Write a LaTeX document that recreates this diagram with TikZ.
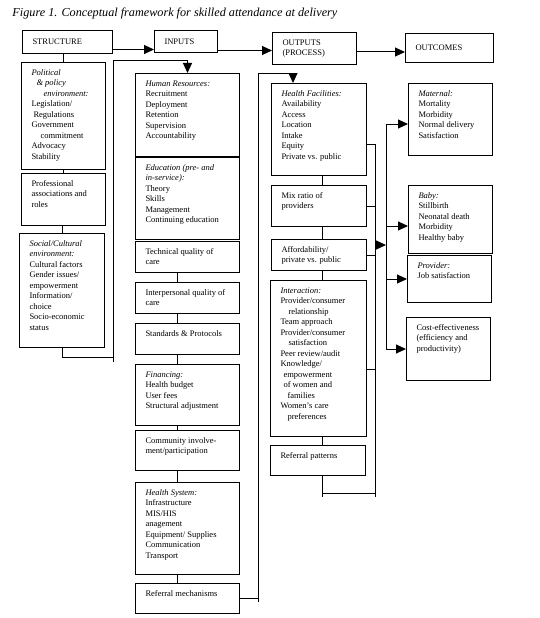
\documentclass[tikz,border=0pt]{standalone}
\usepackage{fontspec}
\setmainfont{Liberation Serif}
\usetikzlibrary{arrows.meta}
\newcommand{\boxtxt}[3]{\parbox[t][#2][t]{#1}{\raggedright #3}}

\begin{document}
\begin{tikzpicture}[x=1pt, y=-1pt, line width=1pt,
    hdr/.style={draw, anchor=north west, inner xsep=10pt, inner ysep=0pt, align=left, font=\fontsize{8.5}{10}\selectfont},
    blk/.style={draw, anchor=north west, inner xsep=10pt, inner ysep=7pt, font=\fontsize{8.5}{10.5}\selectfont},
    arr/.style={-{Triangle[length=10pt, width=9pt]}}]
    \useasboundingbox (0,0) rectangle (539,618);
    \node[anchor=base west, inner xsep=0pt, font=\fontsize{12.2}{14}\selectfont\itshape] (title) at (12,17) {Figure 1. Conceptual framework for skilled attendance at delivery};

    % headers
    \node[hdr, text width=70pt, minimum height=23pt] (struct) at (22,30) {STRUCTURE};
    \node[hdr, text width=43pt, minimum height=22pt] (inputs) at (154,30) {INPUTS};
    \node[hdr, text width=64pt, minimum height=32pt] (outp) at (272,32) {OUTPUTS\\(PROCESS)};
    \node[hdr, text width=68pt, minimum height=29pt] (outc) at (405,33) {OUTCOMES};

    \coordinate (a1) at ([yshift=-8pt]inputs.west);
    \coordinate (a2) at ([yshift=-2pt]outp.west);
    \coordinate (a3) at ([yshift=-4pt]outc.west);
    \draw[arr] (struct.east |- a1) -- (a1);
    \draw[arr] (inputs.east |- a2) -- (a2);
    \draw[arr] (outp.east |- a3) -- (a3);

    % structure
    \node[blk] (pol) at (21,62) {\boxtxt{64pt}{93pt}{\textit{Political}\\\hspace*{5pt}\textit{\& policy}\\\hspace*{12pt}\textit{environment:}\\Legislation/\\\hspace*{2pt}Regulations\\Government\\\hspace*{9pt}commitment\\Advocacy\\Stability}};
    \node[blk] (prof) at (21,173) {\boxtxt{64pt}{38pt}{Professional\\associations and\\roles}};
    \node[blk] (soc) at (19,233) {\boxtxt{65pt}{100pt}{\textit{Social/Cultural}\\\textit{environment:}\\Cultural factors\\Gender issues/\\empowerment\\Information/\\choice\\Socio-economic\\status}};

    \draw (pol.north |- struct.south) -- (pol.north);
    \draw (pol.south) -- (prof.north);
    \draw (soc.north |- prof.south) -- (soc.north);

    % inputs
    \node[blk] (hr) at (135,73) {\boxtxt{84pt}{69pt}{\textit{Human Resources:}\\Recruitment\\Deployment\\Retention\\Supervision\\Accountability}};
    \node[blk] (edu) at (135,157) {\boxtxt{84pt}{68pt}{\textit{Education (pre- and}\\\textit{in-service):}\\Theory\\Skills\\Management\\Continuing education}};
    \node[blk] (tech) at (135,241) {\boxtxt{84pt}{17pt}{Technical quality of\\care}};
    \node[blk] (inter) at (135,282) {\boxtxt{84pt}{17pt}{Interpersonal quality of\\care}};
    \node[blk] (std) at (135,323) {\boxtxt{84pt}{17pt}{Standards \& Protocols}};
    \node[blk] (fin) at (135,364) {\boxtxt{84pt}{47pt}{\textit{Financing:}\\Health budget\\User fees\\Structural adjustment}};
    \node[blk] (comm) at (135,430) {\boxtxt{84pt}{26pt}{Community involve-\\ment/participation}};
    \node[blk] (hsys) at (135,482) {\boxtxt{84pt}{78pt}{\textit{Health System:}\\Infrastructure\\MIS/HIS\\anagement\\Equipment/ Supplies\\Communication\\Transport}};
    \node[blk] (refm) at (135,583) {\boxtxt{84pt}{16pt}{Referral mechanisms}};

    \coordinate (ic) at (177,0);
    \foreach \x/\y in {tech/inter, inter/std, std/fin, fin/comm, comm/hsys, hsys/refm}
        \draw (\x.south -| ic) -- (\y.north -| ic);

    % structure -> inputs
    \coordinate (sbot) at (113,362);
    \coordinate (stop) at (113,61);
    \draw (soc.south) |- ([yshift=5pt]sbot);
    \draw[arr] (sbot) -- (stop) -| (hr.north);

    % outputs
    \node[blk] (hf) at (271,83) {\boxtxt{75pt}{78pt}{\textit{Health Facilities:}\\Availability\\Access\\Location\\Intake\\Equity\\Private vs. public}};
    \node[blk] (mix) at (271,185) {\boxtxt{75pt}{27pt}{Mix ratio of\\providers}};
    \node[blk] (aff) at (271,239) {\boxtxt{75pt}{17pt}{Affordability/\\private vs. public}};
    \node[blk] (intr) at (270,280) {\boxtxt{76pt}{142pt}{\textit{Interaction:}\\Provider/consumer\\\hspace*{8pt}relationship\\Team approach\\Provider/consumer\\\hspace*{8pt}satisfaction\\Peer review/audit\\Knowledge/\\\hspace*{3pt}empowerment\\\hspace*{3pt}of women and\\\hspace*{7pt}families\\Women's care\\\hspace*{7pt}preferences}};
    \node[blk] (refp) at (270,445) {\boxtxt{75pt}{16pt}{Referral patterns}};

    \coordinate (oc) at (322,0);
    \foreach \x/\y in {hf/mix, mix/aff, aff/intr, intr/refp}
        \draw (\x.south -| oc) -- (\y.north -| oc);

    % inputs -> outputs
    \coordinate (ibot) at (258,602);
    \coordinate (itop) at (258,73);
    \coordinate (ia) at (293,0);
    \draw (refm.east) -- (refm.east -| ibot);
    \draw[arr] (ibot) -- (itop) -| (hf.north -| ia);

    % outputs collector
    \coordinate (rtop) at (375,144);
    \coordinate (rbot) at (375,497);
    \coordinate (istub) at ([yshift=-11pt]intr.east);
    \coordinate (pb) at (322,497);
    \coordinate (pj) at (322,493);
    \draw (hf.east |- rtop) -- (rtop) -- (rbot);
    \draw (mix.east) -- (mix.east -| rtop);
    \draw (aff.east) -- (aff.east -| rtop);
    \draw (istub) -- (istub -| rtop);
    \draw (refp.south -| oc) -- (pb);
    \draw (pj) -- (pj -| rbot);

    % outcomes
    \node[blk] (mat) at (408,83) {\boxtxt{64pt}{58pt}{\textit{Maternal:}\\Mortality\\Morbidity\\Normal delivery\\Satisfaction}};
    \node[blk] (baby) at (408,185) {\boxtxt{64pt}{54pt}{\textit{Baby:}\\Stillbirth\\Neonatal death\\Morbidity\\Healthy baby}};
    \node[blk] (prov) at (407,255) {\boxtxt{64pt}{33pt}{\textit{Provider:}\\Job satisfaction}};
    \node[blk] (cost) at (406,317) {\boxtxt{64pt}{49pt}{Cost-effectiveness\\(efficiency and\\productivity)}};

    \coordinate (otop) at (386,124);
    \coordinate (ob) at (386,226);
    \coordinate (amid) at (375,245);
    \draw[arr] (amid) -- (amid -| otop);
    \draw[arr] (cost.west -| otop) -- (otop) -- (otop -| mat.west);
    \draw[arr] (ob) -- (ob -| baby.west);
    \draw[arr] (prov.west -| otop) -- (prov.west);
    \draw[arr] (cost.west -| otop) -- (cost.west);
\end{tikzpicture}
\end{document}
